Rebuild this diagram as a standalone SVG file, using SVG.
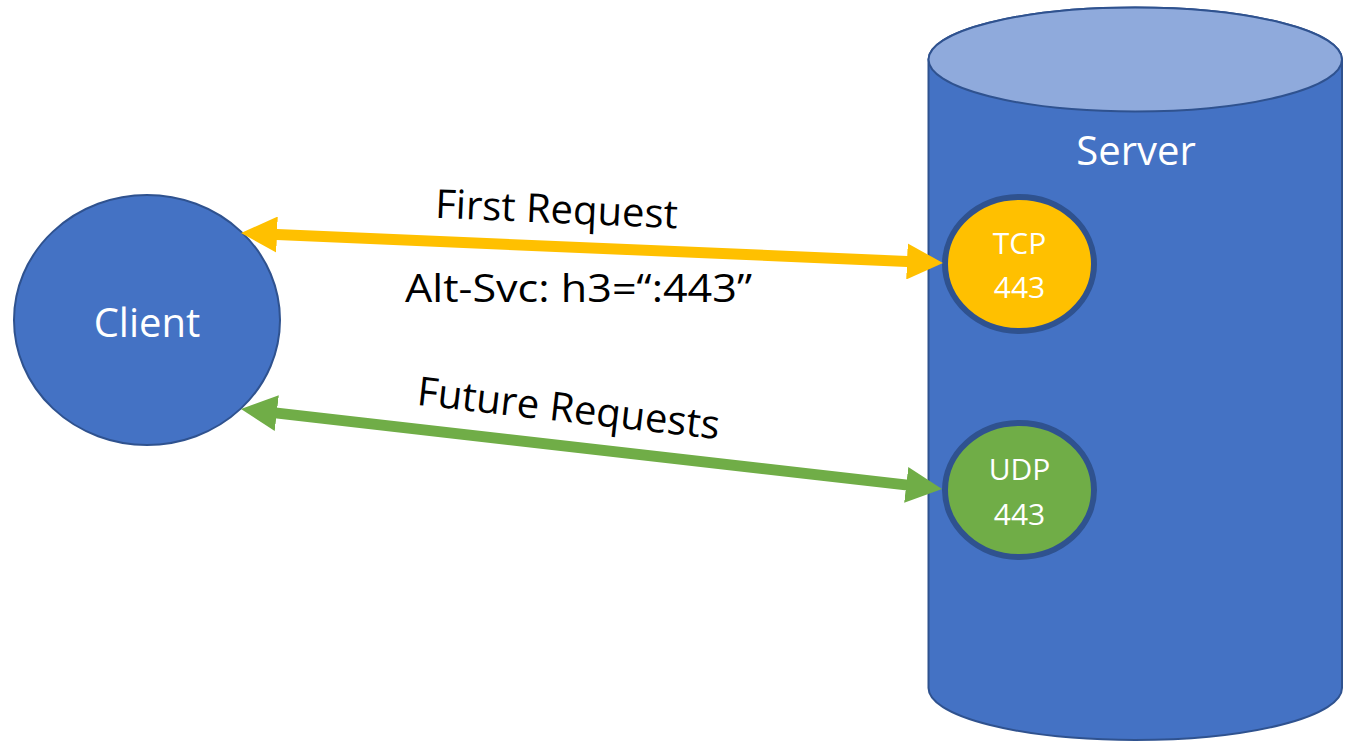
<svg xmlns="http://www.w3.org/2000/svg" width="1345" height="742" viewBox="0 0 1345 742">
  <style>
    .lbl { font-family: "Open Sans", "Liberation Sans", sans-serif; fill: #000; }
    .wlbl { font-family: "Open Sans", "Liberation Sans", sans-serif; fill: #fff; text-anchor: middle; }
    .edge { stroke: #2F528F; }
  </style>
  <defs>
    <marker id="headY" markerUnits="userSpaceOnUse" markerWidth="36" markerHeight="36" refX="6" refY="18" orient="auto-start-reverse" viewBox="0 0 36 36">
      <path d="M0,0 L36,18 L0,36 Z" fill="#FFC000"/>
    </marker>
    <marker id="headG" markerUnits="userSpaceOnUse" markerWidth="36" markerHeight="36" refX="6" refY="18" orient="auto-start-reverse" viewBox="0 0 36 36">
      <path d="M0,0 L36,18 L0,36 Z" fill="#70AD47"/>
    </marker>
  </defs>
  <rect width="1345" height="742" fill="#fff"/>

  <g id="server">
    <path class="edge" d="M928.5,59.5 L928.5,688 A206.75,52 0 0 0 1342,688 L1342,59.5 A206.75,52 0 0 0 928.5,59.5 Z" fill="#4472C4" stroke-width="2"/>
    <ellipse class="edge" cx="1135.25" cy="59.5" rx="206.75" ry="52" fill="#8FAADC" stroke-width="2"/>
    <text class="wlbl" x="1136" y="165" font-size="40">Server</text>
  </g>

  <g id="client">
    <ellipse class="edge" cx="147" cy="320" rx="133" ry="125" fill="#4472C4" stroke-width="2"/>
    <text class="wlbl" x="147" y="337" font-size="40">Client</text>
  </g>

  <g id="tcp">
    <ellipse class="edge" cx="1019.5" cy="264" rx="74.5" ry="67" fill="#FFC000" stroke-width="6"/>
    <text class="wlbl" x="1019.5" y="254" font-size="30">TCP</text>
    <text class="wlbl" x="1019.5" y="298" font-size="30">443</text>
  </g>

  <g id="udp">
    <ellipse class="edge" cx="1019.5" cy="490" rx="74.5" ry="67" fill="#70AD47" stroke-width="6"/>
    <text class="wlbl" x="1019.5" y="480" font-size="30">UDP</text>
    <text class="wlbl" x="1019.5" y="525" font-size="30">443</text>
  </g>

  <g id="connectors">
    <line x1="271" y1="234.3" x2="913" y2="261.7" stroke="#FFC000" stroke-width="11" marker-start="url(#headY)" marker-end="url(#headY)"/>
    <line x1="270.8" y1="412.4" x2="912.2" y2="485.6" stroke="#70AD47" stroke-width="11" marker-start="url(#headG)" marker-end="url(#headG)"/>
    <text class="lbl" x="556" y="223" font-size="40" text-anchor="middle" transform="rotate(2.5 556 223)">First Request</text>
    <text class="lbl" x="405" y="302" font-size="38" textLength="347" lengthAdjust="spacingAndGlyphs">Alt-Svc: h3=“:443”</text>
    <text class="lbl" x="567" y="422" font-size="40" text-anchor="middle" transform="rotate(6.5 567 422)">Future Requests</text>
  </g>
</svg>
